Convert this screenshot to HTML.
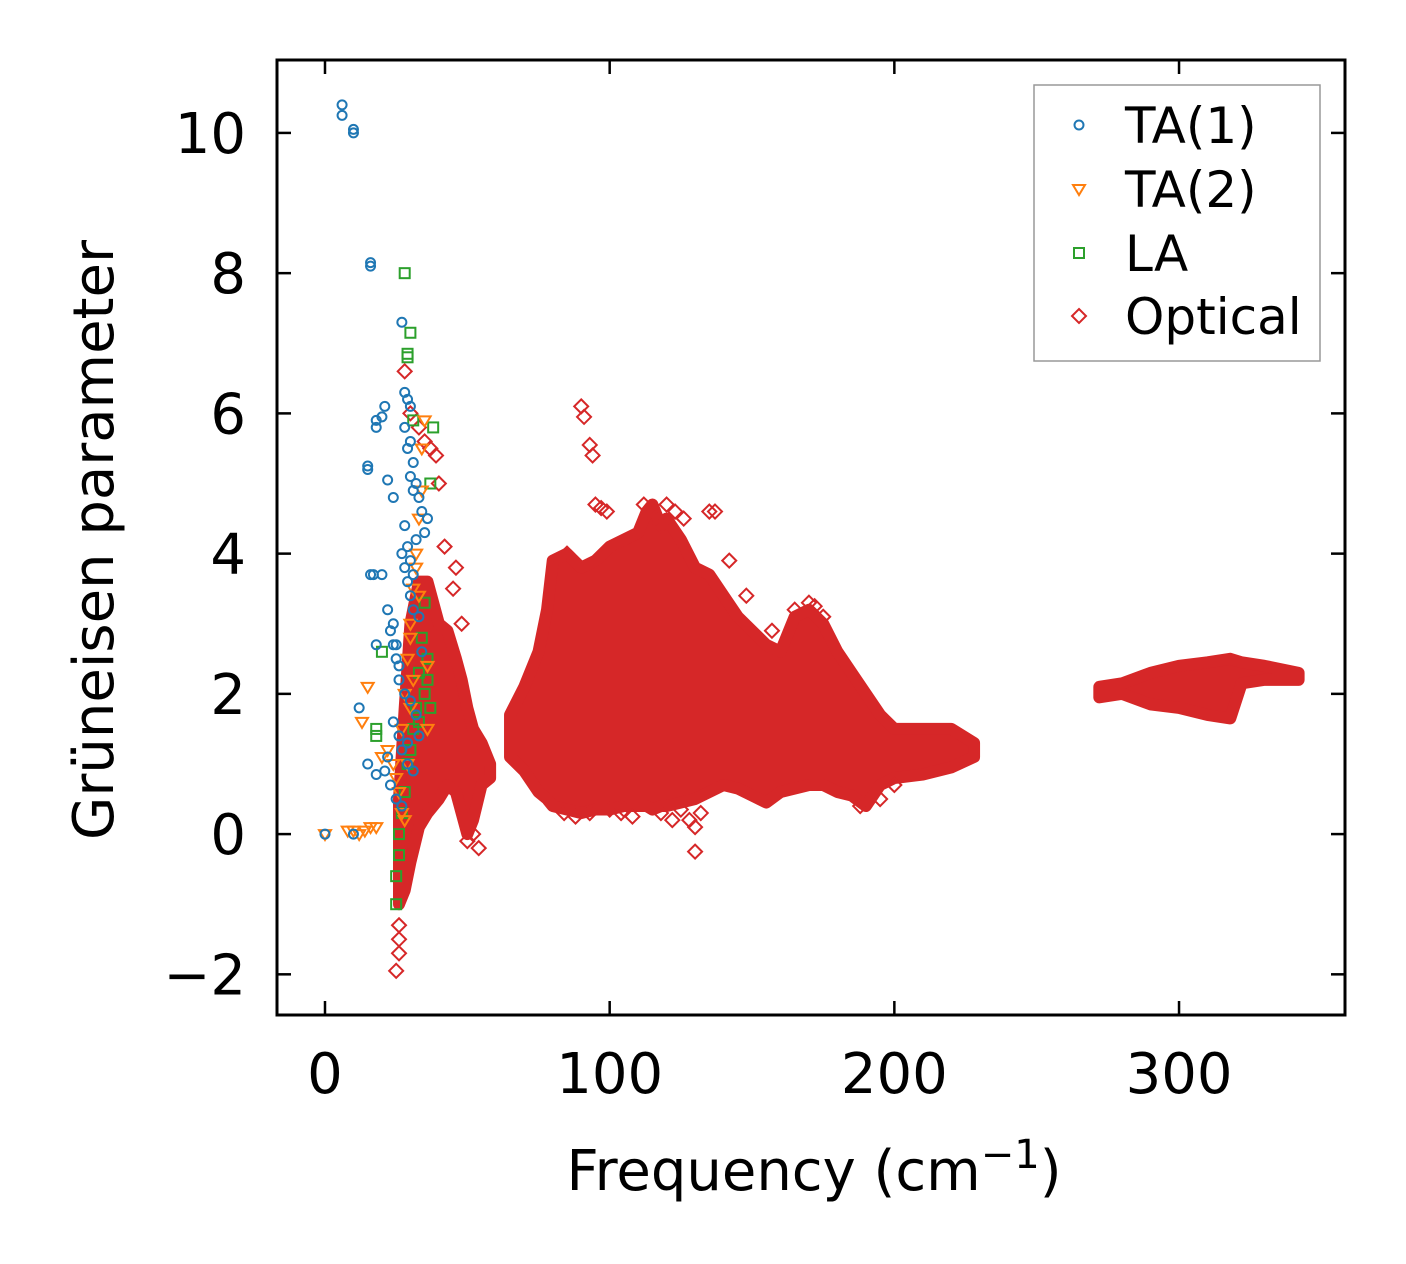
<!DOCTYPE html>
<html><head><meta charset="utf-8"><style>
body{margin:0;background:#fff}
svg{display:block;font-family:"DejaVu Sans","Liberation Sans",sans-serif}
</style></head><body>
<svg id="chart" width="1406" height="1264" viewBox="0 0 1406 1264" xmlns="http://www.w3.org/2000/svg">
<rect width="1406" height="1264" fill="#fff"/>
<defs><clipPath id="clip"><rect x="277" y="60" width="1068" height="955"/></clipPath></defs>
<g id="bands" clip-path="url(#clip)"></g>
<g id="marks" clip-path="url(#clip)"></g>
<rect x="277" y="60" width="1068" height="955" fill="none" stroke="#000" stroke-width="3"/>
<g id="axes"></g>
<text x="814" y="1190" font-size="56" text-anchor="middle">Frequency (cm<tspan dy="-22" font-size="40">−1</tspan><tspan dy="22">)</tspan></text>
<text transform="translate(113,540) rotate(-90)" font-size="56" text-anchor="middle">Grüneisen parameter</text>
<g>
<rect x="1034" y="85" width="286" height="276" fill="#fff" stroke="#999" stroke-width="1.5"/>
<circle cx="1079" cy="125" r="4.5" fill="none" stroke="#1f77b4" stroke-width="2"/>
<text x="1125" y="143" font-size="50">TA(1)</text>
<path d="M1073,185 L1085,185 L1079,195 Z" fill="none" stroke="#ff7f0e" stroke-width="2"/>
<text x="1125" y="207" font-size="50">TA(2)</text>
<rect x="1074" y="248" width="10" height="10" fill="none" stroke="#2ca02c" stroke-width="2"/>
<text x="1125" y="271" font-size="50">LA</text>
<path d="M1079,309 L1086,316 L1079,323 L1072,316 Z" fill="none" stroke="#d62728" stroke-width="2"/>
<text x="1125" y="334" font-size="50">Optical</text>
</g>
</svg>
<script>
const xTicks=[0,100,200,300];
const yTicks=[-2,0,2,4,6,8,10];
const yTickLabels=["−2","0","2","4","6","8","10"];
// dense optical envelopes: freq, low, high
const band1X=[26,28,30,33,36,40,43,46,48,50,52,55,58];
const band1Lo=[-1.0,-0.8,-0.4,0.1,0.3,0.5,0.7,0.6,0.3,0.0,0.2,0.7,0.8];
const band1Hi=[0.5,1.8,3.0,3.6,3.6,3.0,2.9,2.5,2.2,1.8,1.5,1.3,1.0];
const band2X=[65,70,75,78,80,85,90,95,100,105,110,113,115,118,120,125,130,135,140,145,150,155,160,165,170,175,180,185,190,195,200,210,220,228];
const band2Lo=[1.1,0.9,0.6,0.5,0.4,0.35,0.3,0.35,0.35,0.4,0.4,0.4,0.35,0.4,0.4,0.45,0.5,0.6,0.7,0.65,0.55,0.45,0.6,0.65,0.7,0.7,0.6,0.55,0.4,0.7,0.8,0.85,0.95,1.1];
const band2Hi=[1.7,2.1,2.6,3.2,3.9,4.0,3.8,3.9,4.1,4.2,4.3,4.6,4.7,4.4,4.5,4.2,3.8,3.7,3.4,3.1,2.9,2.7,2.6,3.1,3.2,3.0,2.6,2.3,2.0,1.7,1.5,1.5,1.5,1.3];
const band3X=[272,280,290,300,310,318,322,330,342];
const band3Lo=[1.95,2.0,1.85,1.8,1.7,1.65,2.15,2.2,2.2];
const band3Hi=[2.1,2.15,2.3,2.4,2.45,2.5,2.45,2.4,2.3];
const ta1X=[0,6,6,10,10,10,16,16,18,18,15,15,21,20,22,24,16,17,18,12,20,22,24,25,26,27,28,29,30,30,31,32,33,34,35,36,27,28,29,30,31,23,25,26,28,30,32,24,26,27,29,31,33,21,23,25,27,29,22,24,18,15,28,29,30,31,32,28,29,30,31,33,34];
const ta1Y=[0,10.4,10.25,10.05,10.0,0,8.15,8.1,5.9,5.8,5.25,5.2,6.1,5.95,5.05,4.8,3.7,3.7,2.7,1.8,3.7,3.2,3.0,2.5,2.2,7.3,6.3,6.2,6.1,5.6,5.3,5.0,4.8,4.6,4.3,4.5,4.0,3.8,3.6,3.4,3.2,2.9,2.7,2.4,2.0,1.9,1.7,1.6,1.4,1.2,1.0,0.9,1.4,0.9,0.7,0.5,0.4,1.3,1.1,2.7,0.85,1.0,5.8,5.5,5.1,4.9,4.2,4.4,4.1,3.9,3.7,3.1,2.6];
const ta2X=[0,8,10,12,14,16,18,20,22,24,25,26,27,28,29,30,31,32,33,34,35,36,27,28,29,30,31,33,15,13,30,32,34,36];
const ta2Y=[0,0.05,0.05,0.0,0.05,0.1,0.1,1.1,1.2,1.0,0.8,0.6,1.5,2.0,2.5,3.0,3.5,4.0,4.5,5.5,5.9,1.5,0.3,0.2,1.0,1.8,2.2,3.4,2.1,1.6,2.8,3.8,4.9,2.4];
const laX=[28,29,29,30,31,38,37,35,34,33,32,31,30,29,28,27,26,26,25,25,20,18,18,36,37,33,35,36];
const laY=[8.0,6.8,6.85,7.15,5.9,5.8,5.0,3.3,2.8,2.3,1.8,1.5,1.2,1.0,0.6,0.3,0.0,-0.3,-0.6,-1.0,2.6,1.5,1.4,2.2,1.8,1.6,2.0,2.5];
const optX=[90,91,93,94,95,97,99,85,82,112,114,116,118,120,123,126,130,132,135,137,142,148,157,165,170,172,175,130,128,125,40,42,39,37,35,33,30,28,27,26,26,25,26,50,52,54,45,46,48,100,104,108,118,122,188,195,200,84,88,93,105];
const optY=[6.1,5.95,5.55,5.4,4.7,4.65,4.6,4.0,3.9,4.7,4.6,4.5,4.4,4.7,4.6,4.5,-0.25,0.3,4.6,4.6,3.9,3.4,2.9,3.2,3.3,3.25,3.1,0.1,0.2,0.35,5.0,4.1,5.4,5.5,5.6,5.8,6.0,6.6,-0.8,-1.3,-1.7,-1.95,-1.5,-0.1,0.0,-0.2,3.5,3.8,3.0,0.35,0.3,0.25,0.3,0.2,0.4,0.5,0.7,0.3,0.25,0.3,0.35];
const X0=277,X1=1345,Y0=60,Y1=1015,xmin=-16.86,xmax=358.3,ymin=-2.58,ymax=11.04;
const sx=v=>X0+(v-xmin)/(xmax-xmin)*(X1-X0);
const sy=v=>Y1-(v-ymin)/(ymax-ymin)*(Y1-Y0);
const NS="http://www.w3.org/2000/svg";
function mk(tag,attrs,parent){const e=document.createElementNS(NS,tag);for(const k in attrs)e.setAttribute(k,attrs[k]);parent.appendChild(e);return e;}
const bands=document.getElementById('bands'),marks=document.getElementById('marks'),axes=document.getElementById('axes');
[[band1X,band1Lo,band1Hi],[band2X,band2Lo,band2Hi],[band3X,band3Lo,band3Hi]].forEach((b,i)=>{
  let pts=b[0].map((x,j)=>sx(x)+','+sy(b[2][j]));
  pts=pts.concat(b[0].map((x,j)=>sx(x)+','+sy(b[1][j])).reverse());
  const p=mk('polygon',{points:pts.join(' '),fill:'#d62728',stroke:'#d62728','stroke-width':12,'stroke-linejoin':'round'},bands);
  
  
});
optX.forEach((x,i)=>{const cx=sx(x),cy=sy(optY[i]);
  const m=mk('path',{d:`M${cx},${cy-7}L${cx+7},${cy}L${cx},${cy+7}L${cx-7},${cy}Z`,fill:'none',stroke:'#d62728','stroke-width':2},marks);
  
  });
laX.forEach((x,i)=>{const cx=sx(x),cy=sy(laY[i]);
  const m=mk('rect',{x:cx-5,y:cy-5,width:10,height:10,fill:'none',stroke:'#2ca02c','stroke-width':2},marks);
  
  });
ta2X.forEach((x,i)=>{const cx=sx(x),cy=sy(ta2Y[i]);
  const m=mk('path',{d:`M${cx-6},${cy-4}L${cx+6},${cy-4}L${cx},${cy+6}Z`,fill:'none',stroke:'#ff7f0e','stroke-width':2},marks);
  
  });
ta1X.forEach((x,i)=>{
  const m=mk('circle',{cx:sx(x),cy:sy(ta1Y[i]),r:4.5,fill:'none',stroke:'#1f77b4','stroke-width':2},marks);
  
  });
xTicks.forEach(t=>{const x=sx(t);
  mk('line',{x1:x,x2:x,y1:Y1,y2:Y1-14,stroke:'#000','stroke-width':2.5},axes);
  mk('line',{x1:x,x2:x,y1:Y0,y2:Y0+14,stroke:'#000','stroke-width':2.5},axes);
  const l=mk('text',{x:x,y:1093,'font-size':56,'text-anchor':'middle'},axes);l.textContent=t;
  
  });
yTicks.forEach((t,i)=>{const y=sy(t);
  mk('line',{x1:X0,x2:X0+14,y1:y,y2:y,stroke:'#000','stroke-width':2.5},axes);
  mk('line',{x1:X1,x2:X1-14,y1:y,y2:y,stroke:'#000','stroke-width':2.5},axes);
  const l=mk('text',{x:246,y:y+20,'font-size':56,'text-anchor':'end'},axes);l.textContent=yTickLabels[i];
  
  });
</script>
</body></html>
